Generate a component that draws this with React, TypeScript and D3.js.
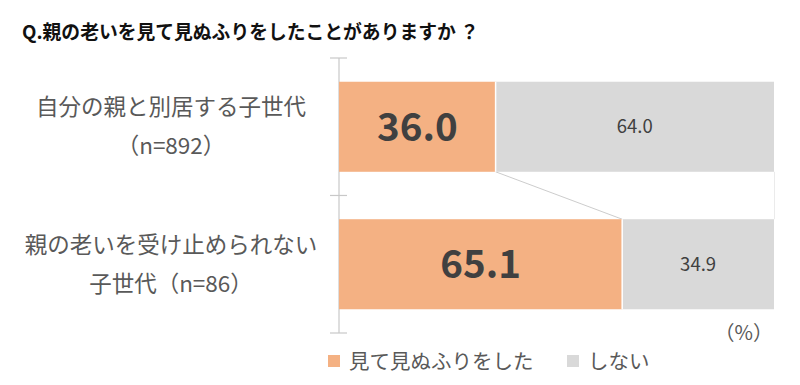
import React, { useEffect, useRef } from "react";
import * as d3 from "d3";

const categories = [
  ["自分の親と別居する子世代", "（n=892）"],
  ["親の老いを受け止められない", "子世代（n=86）"],
];
const didIgnore = [36.0, 65.1];
const didNot = [64.0, 34.9];
const seriesNames = ["見て見ぬふりをした", "しない"];
const colors = ["#F4B183", "#D9D9D9"];

const FONT = "'Noto Sans CJK JP', 'Noto Sans', sans-serif";

const App = () => {
  const svgRef = useRef<SVGSVGElement>(null);

  useEffect(() => {
    const width = 800;
    const height = 385;
    const svg = d3.select(svgRef.current).attr("width", width).attr("height", height);
    svg.selectAll("*").remove();
    svg.append("rect").attr("width", width).attr("height", height).attr("fill", "#fff");

    svg
      .append("text")
      .attr("x", 22)
      .attr("y", 39)
      .attr("font-family", FONT)
      .attr("font-weight", "bold")
      .attr("font-size", 18.8)
      .attr("fill", "#111")
      .text("Q.親の老いを見て見ぬふりをしたことがありますか ？");

    const x = d3.scaleLinear().domain([0, 100]).range([339, 774]);
    const y = d3
      .scaleBand<number>()
      .domain(d3.range(categories.length))
      .range([58, 333])
      .paddingInner(0.345)
      .paddingOuter(0.1727);

    // axis line and cross ticks
    const axisColor = "#C8C8C8";
    svg.append("line").attr("x1", 339).attr("x2", 339).attr("y1", 58).attr("y2", 333)
      .attr("stroke", axisColor).attr("stroke-width", 1.2);
    const tickYs = [58, 58 + y.step(), 333];
    svg.selectAll("line.tick").data(tickYs).enter().append("line")
      .attr("x1", 330).attr("x2", 347).attr("y1", (d) => d).attr("y2", (d) => d)
      .attr("stroke", axisColor).attr("stroke-width", 1.2);

    const rows = categories.map((c, i) => ({ i, a: didIgnore[i], b: didNot[i] }));

    // connector line between orange ends
    svg.append("line")
      .attr("x1", x(didIgnore[0])).attr("y1", (y(0) as number) + y.bandwidth())
      .attr("x2", x(didIgnore[1])).attr("y2", y(1) as number)
      .attr("stroke", "#BFBFBF").attr("stroke-width", 0.8);

    svg.append("line")
      .attr("x1", x(100) + 0.5).attr("x2", x(100) + 0.5)
      .attr("y1", (y(0) as number) + y.bandwidth()).attr("y2", y(1) as number)
      .attr("stroke", "#EBEBEB").attr("stroke-width", 1);

    const g = svg.selectAll("g.row").data(rows).enter().append("g");
    g.append("rect")
      .attr("x", x(0)).attr("y", (d) => y(d.i) as number)
      .attr("width", (d) => x(d.a) - x(0)).attr("height", y.bandwidth())
      .attr("fill", colors[0]);
    g.append("rect")
      .attr("x", (d) => x(d.a)).attr("y", (d) => y(d.i) as number)
      .attr("width", (d) => x(d.a + d.b) - x(d.a)).attr("height", y.bandwidth())
      .attr("fill", colors[1]);
    g.append("line")
      .attr("x1", (d) => x(d.a)).attr("x2", (d) => x(d.a))
      .attr("y1", (d) => y(d.i) as number).attr("y2", (d) => (y(d.i) as number) + y.bandwidth())
      .attr("stroke", "#fff").attr("stroke-width", 1.5);

    g.append("text")
      .attr("x", (d) => (x(0) + x(d.a)) / 2)
      .attr("y", (d) => (y(d.i) as number) + y.bandwidth() / 2)
      .attr("dy", "0.36em")
      .attr("text-anchor", "middle")
      .attr("font-family", FONT).attr("font-weight", "bold").attr("font-size", 38.5)
      .attr("fill", "#404040")
      .text((d) => d.a.toFixed(1));
    g.append("text")
      .attr("x", (d) => (x(d.a) + x(d.a + d.b)) / 2)
      .attr("y", (d) => (y(d.i) as number) + y.bandwidth() / 2)
      .attr("dy", "0.36em")
      .attr("text-anchor", "middle")
      .attr("font-family", FONT).attr("font-size", 18.5)
      .attr("fill", "#404040")
      .text((d) => d.b.toFixed(1));

    // category labels
    g.each(function (d) {
      const cy = (y(d.i) as number) + y.bandwidth() / 2;
      const t = d3.select(this).append("text")
        .attr("text-anchor", "middle")
        .attr("font-family", FONT).attr("font-size", 22.5)
        .attr("fill", "#595959");
      categories[d.i].forEach((line, k) => {
        t.append("tspan").attr("x", 171).attr("y", cy - 11.5 + k * 39).text(line);
      });
    });

    svg.append("text")
      .attr("x", 773).attr("y", 340).attr("text-anchor", "end")
      .attr("font-family", FONT).attr("font-size", 20).attr("fill", "#595959")
      .text("（%）");

    // legend
    const legendX = [328, 567];
    const lg = svg.selectAll("g.legend").data(seriesNames).enter().append("g")
      .attr("transform", (d, i) => `translate(${legendX[i]},355)`);
    lg.append("rect").attr("width", 12).attr("height", 12).attr("fill", (d, i) => colors[i]);
    lg.append("text").attr("x", 21).attr("y", 14)
      .attr("font-family", FONT).attr("font-size", 20.5).attr("fill", "#595959")
      .text((d) => d);
  }, []);

  return <svg ref={svgRef} style={{ position: "absolute", left: 0, top: 0 }}></svg>;
};

export default App;
